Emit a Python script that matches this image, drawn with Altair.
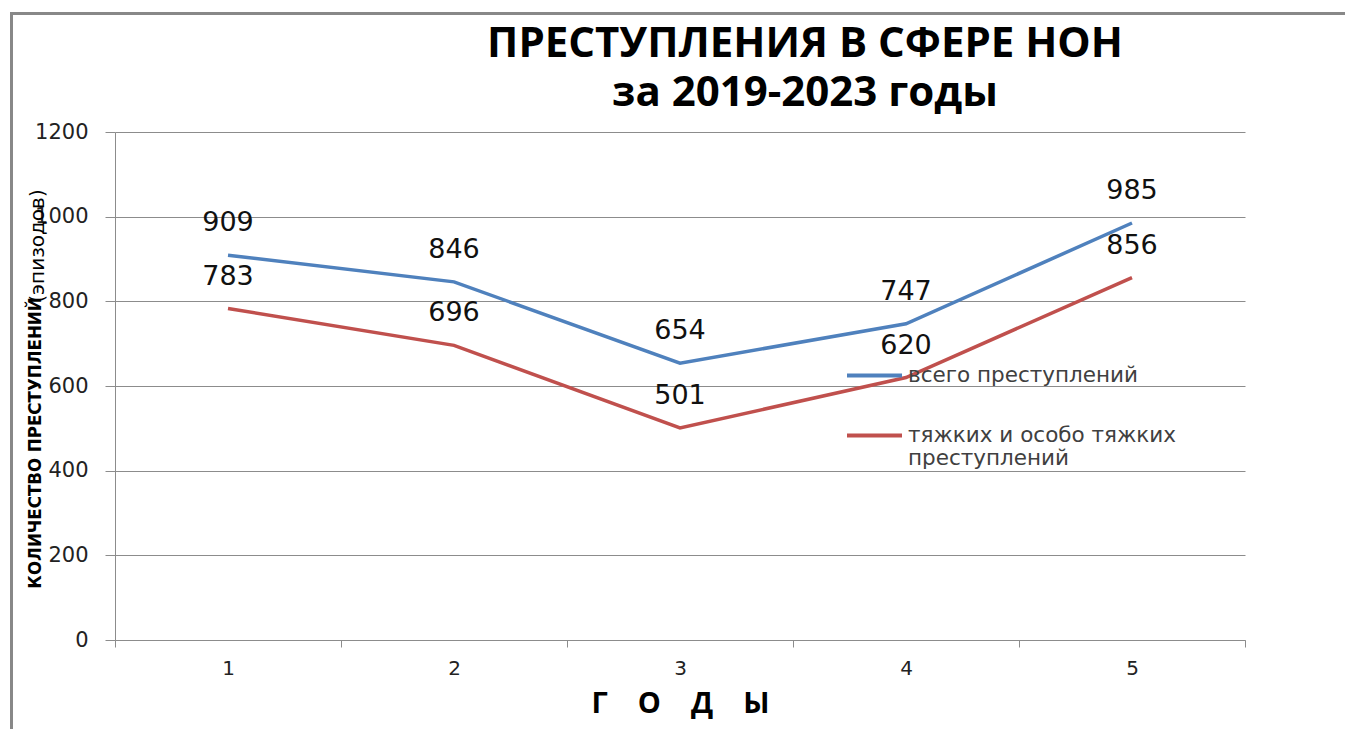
import altair as alt
import pandas as pd

# ---- data ----
years = ["1", "2", "3", "4", "5"]
total_crimes = [909, 846, 654, 747, 985]
grave_crimes = [783, 696, 501, 620, 856]
series_names = ["всего преступлений", "тяжких и особо тяжких преступлений"]
series_colors = ["#4F81BD", "#C0504D"]
y_ticks = [0, 200, 400, 600, 800, 1000, 1200]

title_line1 = "ПРЕСТУПЛЕНИЯ В СФЕРЕ НОН"
title_line2 = "за 2019-2023 годы"
y_title_main = "КОЛИЧЕСТВО ПРЕСТУПЛЕНИЙ"
y_title_sub = "(эпизодов)"
NB = "\u00a0"
x_title = (NB * 4).join(["Г", "О", "Д", "Ы"])

df = pd.DataFrame({
    "year": years * 2,
    "value": total_crimes + grave_crimes,
    "series": [series_names[0]] * len(years) + [series_names[1]] * len(years),
})

GRID = "#8c8c8c"

x_enc = alt.X(
    "year:N",
    sort=years,
    scale=alt.Scale(paddingInner=0, paddingOuter=0),
    axis=alt.Axis(
        title=x_title, labelAngle=0, tickBand="extent", tickSize=7,
        tickColor=GRID, domainColor=GRID, labelFont="DejaVu Sans",
        labelFontSize=20, labelColor="#222222", labelPadding=11,
        titleFont="Open Sans", titleFontSize=29, titleFontWeight="bold",
        titleColor="#000000", titlePadding=11, grid=False,
    ),
)
y_enc = alt.Y(
    "value:Q",
    scale=alt.Scale(domain=[0, 1200], nice=False),
    axis=alt.Axis(
        title=None, values=y_ticks, format="d", tickSize=10, tickColor=GRID,
        domainColor=GRID, gridColor=GRID, gridWidth=1, grid=True,
        labelFont="DejaVu Sans", labelFontSize=21, labelColor="#222222",
        labelPadding=17,
    ),
)

base = alt.Chart(df)

lines = base.mark_line(strokeWidth=3.5).encode(
    x=x_enc,
    y=y_enc,
    color=alt.Color(
        "series:N",
        scale=alt.Scale(domain=series_names, range=series_colors),
        legend=alt.Legend(
            title=None, orient="none", legendX=730, legendY=214,
            symbolType="stroke", symbolSize=3025, symbolStrokeWidth=4,
            labelFont="DejaVu Sans", labelFontSize=21.5, labelColor="#404040",
            labelLimit=500, labelOffset=4, rowPadding=20, padding=0,
            labelExpr="datum.label == 'тяжких и особо тяжких преступлений' ? ['тяжких и особо тяжких', 'преступлений'] : datum.label",
        ),
    ),
)

labels = base.mark_text(
    dy=-32, fontSize=27, font="DejaVu Sans", baseline="middle", color="#111111"
).encode(x=x_enc, y=y_enc, text="value:Q")

one = pd.DataFrame({"k": [0]})

title_a = alt.Chart(one).mark_text(
    font="Open Sans", fontSize=42, fontWeight="bold", baseline="middle",
    align="center", color="#000000",
).encode(x=alt.value(690), y=alt.value(-88), text=alt.value(title_line1))

title_b = alt.Chart(one).mark_text(
    font="Open Sans", fontSize=42, fontWeight="bold", baseline="middle",
    align="center", color="#000000",
).encode(x=alt.value(690), y=alt.value(-39), text=alt.value(title_line2))

ytitle_main = alt.Chart(one).mark_text(
    font="DejaVu Sans Condensed, Roboto, sans-serif", fontSize=18.5,
    fontWeight="bold", baseline="middle", align="center", angle=270,
    color="#000000",
).encode(x=alt.value(-80), y=alt.value(311), text=alt.value(y_title_main))

ytitle_sub = alt.Chart(one).mark_text(
    font="DejaVu Sans", fontSize=20, baseline="middle", align="center",
    angle=270, color="#000000",
).encode(x=alt.value(-77), y=alt.value(114), text=alt.value(y_title_sub))

frame = alt.Chart(one).mark_rect(
    fillOpacity=0, stroke="#888888", strokeWidth=3
).encode(
    x=alt.value(-103.5), x2=alt.value(1260),
    y=alt.value(-118.5), y2=alt.value(700),
)

chart = alt.layer(
    frame, lines, labels, title_a, title_b, ytitle_main, ytitle_sub
).properties(
    width=1130, height=508,
    autosize="none",
    padding={"left": 107, "top": 124, "right": 100, "bottom": 89},
    background="white",
).configure_view(stroke=None)

chart.save("out.html", embed_options={"renderer": "svg", "actions": False})
